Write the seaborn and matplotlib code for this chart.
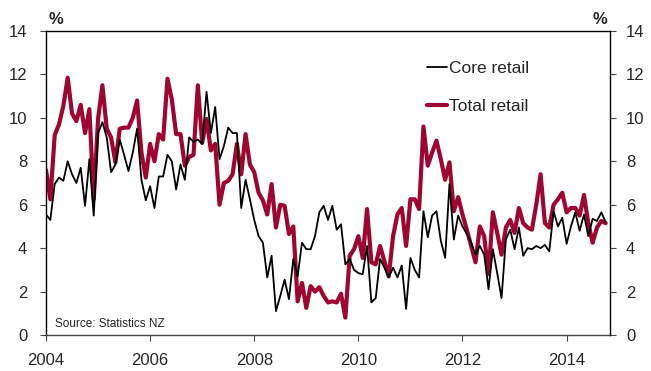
import matplotlib
matplotlib.use("Agg")
import matplotlib.pyplot as plt
import seaborn as sns
import numpy as np
import pandas as pd
from matplotlib.lines import Line2D

# Monthly data, Jan 2004 .. Oct 2014 (annual % change)
start_year = 2004
core_retail = [
    5.55, 5.3, 6.95, 7.25, 7.1, 8.0, 7.4, 7.0, 7.7, 5.95, 8.1, 5.5,
    9.3, 9.8, 9.1, 7.5, 7.85, 9.0, 8.3, 7.55, 8.4, 9.5, 7.15, 6.2,
    6.85, 5.85, 7.3, 7.3, 8.3, 8.0, 6.7, 7.85, 7.15, 9.1, 8.9, 9.0,
    8.8, 11.2, 9.3, 10.5, 8.1, 8.7, 9.55, 9.3, 9.3, 5.85, 7.15, 6.25,
    5.3, 4.55, 4.25, 2.65, 3.65, 1.1, 1.8, 2.55, 1.65, 3.5, 2.7, 4.25,
    3.95, 3.95, 4.55, 5.65, 5.95, 5.3, 5.95, 4.85, 5.1, 3.25, 3.5, 3.0,
    2.85, 2.8, 4.1, 1.5, 1.7, 3.5, 3.1, 2.65, 3.1, 2.65, 3.2, 1.2,
    3.55, 3.0, 2.65, 5.7, 4.5, 5.5, 5.7, 4.35, 3.55, 6.95, 4.4, 5.5,
    5.0, 4.65, 4.25, 3.7, 4.1, 3.7, 2.1, 3.95, 2.85, 1.7, 4.4, 4.85,
    3.95, 4.95, 3.65, 4.0, 3.95, 4.1, 4.0, 4.15, 3.85, 5.7, 5.0, 5.4,
    4.2, 5.0, 5.65, 4.8, 5.55, 4.55, 5.35, 5.25, 5.65, 5.2,
]
total_retail = [
    7.6, 6.25, 9.2, 9.7, 10.55, 11.85, 10.2, 9.85, 10.6, 9.3, 10.4, 6.25,
    9.95, 11.5, 9.5, 9.1, 7.95, 9.5, 9.55, 9.55, 10.0, 10.8, 8.4, 7.25,
    8.8, 8.0, 9.25, 9.0, 11.8, 10.85, 9.25, 9.25, 7.8, 8.2, 8.3, 11.5,
    8.85, 9.95, 8.5, 8.8, 6.0, 7.0, 7.1, 7.4, 8.8, 7.4, 9.25, 7.85,
    7.5, 6.55, 6.2, 5.55, 6.95, 4.95, 6.0, 5.95, 4.65, 5.0, 1.55, 2.4,
    1.25, 2.25, 2.0, 2.2, 1.8, 1.5, 1.55, 1.5, 1.9, 0.8, 3.65, 3.95,
    4.55, 3.55, 5.8, 3.35, 3.25, 4.1, 3.4, 2.7, 4.55, 5.55, 5.85, 4.1,
    6.25, 6.25, 5.8, 9.6, 7.8, 8.4, 8.95, 8.1, 7.15, 7.95, 5.7, 6.35,
    5.55, 4.85, 4.1, 3.35, 5.0, 4.55, 2.8, 5.65, 4.7, 3.7, 4.95, 5.3,
    4.7, 5.85, 5.15, 4.95, 4.85, 6.0, 7.4, 5.15, 4.95, 6.0, 6.25, 6.55,
    5.65, 5.85, 5.85, 5.5, 6.45, 5.15, 4.25, 4.95, 5.25, 5.15,
]
series_names = ["Core retail", "Total retail"]
x_ticks = [2004, 2006, 2008, 2010, 2012, 2014]
y_ticks = [0, 2, 4, 6, 8, 10, 12, 14]
source_text = "Source: Statistics NZ"

n = len(core_retail)
years = start_year + np.arange(n) / 12.0
df = pd.DataFrame({
    "year": np.concatenate([years, years]),
    "value": core_retail + total_retail,
    "series": [series_names[0]] * n + [series_names[1]] * n,
})

sns.set_theme(style="white")
plt.rcParams["font.family"] = ["Liberation Sans", "DejaVu Sans"]

RED = "#9E0631"
fig = plt.figure(figsize=(6.51, 3.71), dpi=100)
ax = fig.add_axes([46 / 651, 36 / 371, 564 / 651, 304 / 371])

sns.lineplot(data=df, x="year", y="value", hue="series",
             palette={series_names[0]: "black", series_names[1]: RED},
             hue_order=[series_names[1], series_names[0]],
             ax=ax, legend=False)
for line in ax.lines:
    if matplotlib.colors.to_hex(line.get_color()) == "#000000":
        line.set_linewidth(1.3)
        line.set_zorder(3)
    else:
        line.set_linewidth(3.0)
        line.set_zorder(2)

ax.set_xlim(start_year, start_year + 130 / 12.0)
ax.set_ylim(0, 14)
ax.set_xticks(x_ticks)
ax.set_xticklabels([str(t) for t in x_ticks])
ax.set_yticks(y_ticks)
ax.set_xlabel("")
ax.set_ylabel("")
for s in ax.spines.values():
    s.set_visible(True)
    s.set_color("black")
    s.set_linewidth(1.0)
ax.spines["right"].set_visible(False)
ax.spines["bottom"].set_color("#444444")
ax.tick_params(axis="y", direction="out", length=4.5, width=0.8, color="#444444",
               labelsize=12, pad=9, left=True)
ax.tick_params(axis="x", direction="out", length=4, width=0.8, color="#444444",
               labelsize=12, pad=9, bottom=True)

ax2 = ax.twinx()
ax2.set_ylim(0, 14)
ax2.set_yticks(y_ticks)
ax2.tick_params(axis="y", direction="out", length=4.5, width=0.8, color="#444444",
                labelsize=12, pad=7, right=True)
for s in ax2.spines.values():
    s.set_visible(False)
ax2.spines["right"].set_visible(True)
ax2.spines["right"].set_color("black")
ax2.spines["right"].set_linewidth(1.0)

fig.text(49 / 651, 1 - 20 / 371, "%", fontsize=12, fontweight="bold",
         ha="left", va="center")
fig.text(607 / 651, 1 - 20 / 371, "%", fontsize=12, fontweight="bold",
         ha="right", va="center")

handles = [Line2D([], [], color="black", lw=1.3),
           Line2D([], [], color=RED, lw=3.0)]
ax.legend(handles, series_names, loc="upper left",
          bbox_to_anchor=((427 - 46) / 564, 1 - (61 - 31) / 304),
          frameon=False, fontsize=12.5, handlelength=1.15, handletextpad=0.1,
          labelspacing=1.3, borderpad=0, borderaxespad=0)

ax.text(0.016, 0.035, source_text, transform=ax.transAxes, fontsize=8.5,
        ha="left", va="center")

fig.savefig("out.png", dpi=100)
